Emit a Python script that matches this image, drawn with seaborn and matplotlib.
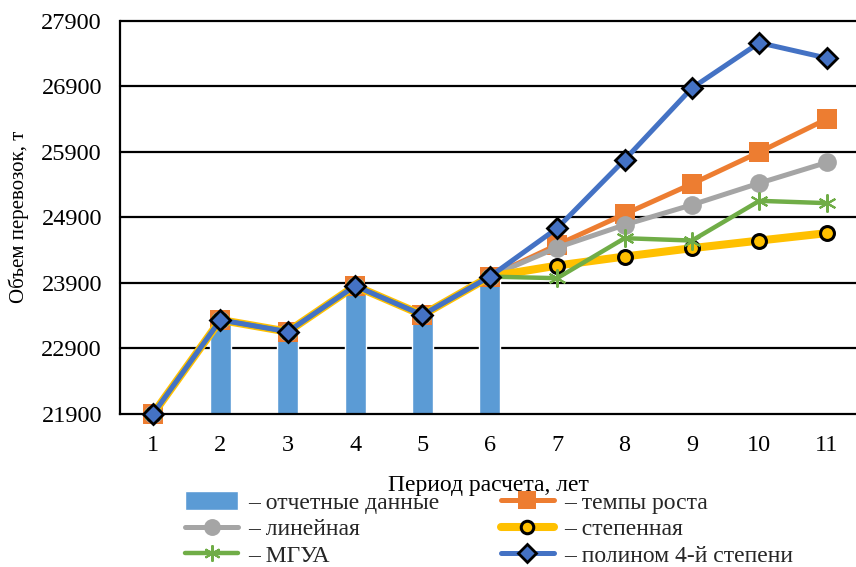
import matplotlib
matplotlib.use("Agg")
import matplotlib.pyplot as plt
import seaborn as sns
import pandas as pd

# Periods and values
periods = [1, 2, 3, 4, 5, 6, 7, 8, 9, 10, 11]
reported = [21900, 23335, 23156, 23854, 23411, 23996]
growth_rate = reported + [24480, 24949, 25411, 25895, 26399]
linear = reported + [24439, 24785, 25091, 25422, 25737]
power = reported + [24164, 24302, 24430, 24546, 24659]
gmdh = reported + [23972, 24582, 24546, 25152, 25117]
poly4 = reported + [24735, 25778, 26873, 27564, 27330]

y_ticks = [21900, 22900, 23900, 24900, 25900, 26900, 27900]

labels = {
    "reported": "– отчетные данные",
    "growth": "– темпы роста",
    "linear": "– линейная",
    "power": "– степенная",
    "gmdh": "– МГУА",
    "poly": "– полином 4-й степени",
}

sns.set_theme(style="white")
plt.rcParams["font.family"] = ["Liberation Serif", "DejaVu Serif"]
FS = 17

fig = plt.figure(figsize=(8.56, 5.67), dpi=100)
ax = fig.add_axes([120 / 856, (567 - 414) / 567, 736 / 856, 393.3 / 567])

bar_df = pd.DataFrame({"period": periods[:len(reported)], "value": reported})
sns.barplot(data=bar_df, x="period", y="value", native_scale=True, width=0.31,
            color="#5B9BD5", saturation=1, label=labels["reported"], ax=ax,
            zorder=2)

line_kw = dict(clip_on=False, zorder=3)
sns.lineplot(x=periods, y=growth_rate, color="#ED7D31", linewidth=3.6,
             marker="s", markersize=14, markeredgewidth=0,
             label=labels["growth"], ax=ax, **line_kw)
sns.lineplot(x=periods, y=linear, color="#A5A5A5", linewidth=3.6,
             marker="o", markersize=13.5, markeredgewidth=0,
             label=labels["linear"], ax=ax, **line_kw)
sns.lineplot(x=periods, y=power, color="#FFC000", linewidth=5.8,
             marker="o", markersize=10, markerfacecolor="#FFC000",
             markeredgecolor="black", markeredgewidth=2.2,
             label=labels["power"], ax=ax, **line_kw)
sns.lineplot(x=periods, y=gmdh, color="#70AD47", linewidth=3.2,
             marker=(6, 2, 0), markersize=13, markeredgecolor="#70AD47",
             markeredgewidth=1.5, label=labels["gmdh"], ax=ax, **line_kw)
sns.lineplot(x=periods, y=poly4, color="#4472C4", linewidth=3.6,
             marker="D", markersize=9.7, markerfacecolor="#4472C4",
             markeredgecolor="black", markeredgewidth=2,
             label=labels["poly"], ax=ax, **line_kw)

ax.set_xlim(0.51, 11.435)
ax.set_ylim(y_ticks[0], y_ticks[-1])
ax.set_xticks(periods)
ax.set_xticklabels([str(p) for p in periods])
ax.set_yticks(y_ticks)
ax.set_yticklabels([str(v) for v in y_ticks])
ax.tick_params(axis="both", length=0, labelsize=17.5, colors="black")
ax.tick_params(axis="x", pad=15)
ax.tick_params(axis="y", pad=13)

for v in y_ticks[1:]:
    ax.axhline(v, color="black", linewidth=1.6, zorder=1, clip_on=False)

for side in ("top", "right"):
    ax.spines[side].set_visible(False)
for side in ("left", "bottom"):
    ax.spines[side].set_color("black")
    ax.spines[side].set_linewidth(1.6)
    ax.spines[side].set_zorder(2.5)

ax.set_xlabel("Период расчета, лет", fontsize=FS, color="black", labelpad=14)
ax.set_ylabel("Объем перевозок, т", fontsize=15, color="black", labelpad=9)

handles, lbls = ax.get_legend_handles_labels()
by_label = dict(zip(lbls, handles))
order = ["reported", "linear", "gmdh", "growth", "power", "poly"]
if ax.get_legend():
    ax.get_legend().remove()
fig.legend([by_label[labels[k]] for k in order], [labels[k] for k in order],
           ncol=2, loc="upper left", bbox_to_anchor=(185 / 856, 1 - 491 / 567),
           frameon=False, fontsize=FS, borderpad=0, borderaxespad=0,
           handlelength=2.25, handleheight=0.85, handletextpad=0.42,
           columnspacing=2.6, labelspacing=0.18, numpoints=1,
           markerscale=0.9)

fig.savefig("out.png", dpi=100)
